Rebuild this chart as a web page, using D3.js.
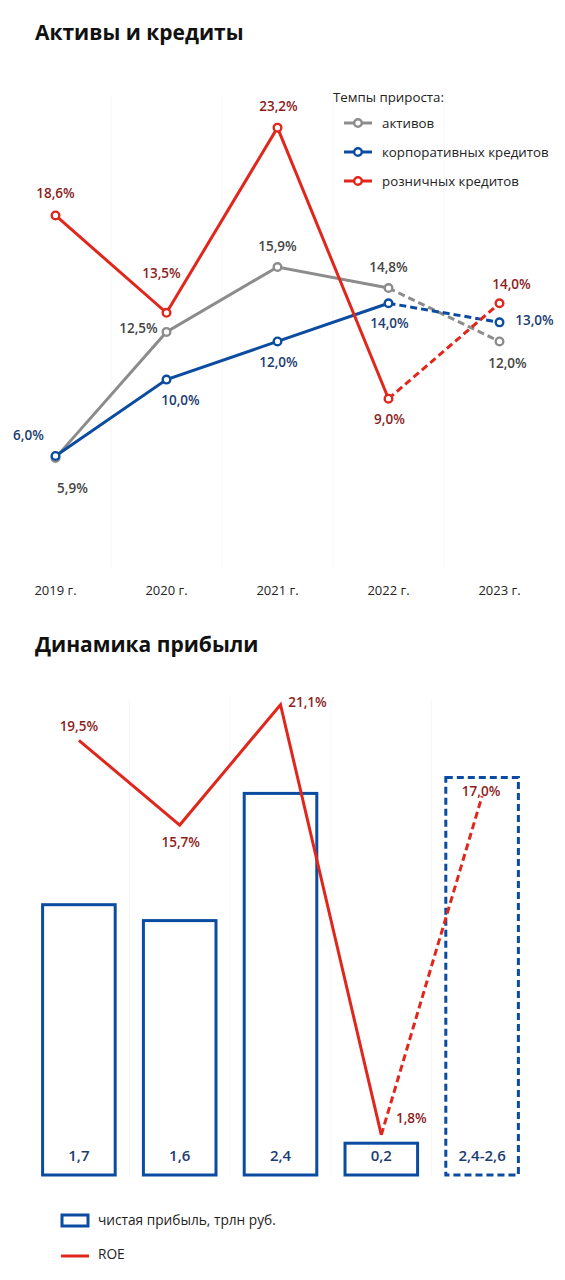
<!DOCTYPE html>
<html>
<head>
<meta charset="utf-8">
<script src="https://cdn.jsdelivr.net/npm/d3@7"></script>
<style>
  body { margin: 0; background: #fff; font-family: "Open Sans", "Noto Sans", sans-serif; }
  svg { display: block; }
</style>
</head>
<body>
<div id="chart"></div>
<script>
// --- data: chart 1 (growth rates, %)
const years = ["2019 г.", "2020 г.", "2021 г.", "2022 г.", "2023 г."]
const assetsGrowth = [5.9, 12.5, 15.9, 14.8, 12.0]
const corpLoansGrowth = [6.0, 10.0, 12.0, 14.0, 13.0]
const retailLoansGrowth = [18.6, 13.5, 23.2, 9.0, 14.0]
const growthLegendTitle = "Темпы прироста:"
const growthSeriesNames = ["активов", "корпоративных кредитов", "розничных кредитов"]

// --- data: chart 2 (profit)
const profitValues = [1.7, 1.6, 2.4, 0.2, 2.5]
const profitLabels = ["1,7", "1,6", "2,4", "0,2", "2,4-2,6"]
const roeValues = [19.5, 15.7, 21.1, 1.8, 17.0]
const profitLegend = ["чистая прибыль, трлн руб.", "ROE"]

const RED = "#e1261c", RED_TXT = "#8c1d1d"
const BLUE = "#0b4ca1", BLUE_TXT = "#1c3d74"
const GRAY = "#8c8c8c", GRAY_TXT = "#454545"
const fmt = v => d3.format(".1f")(v).replace(".", ",") + "%"

const svg = d3.select("#chart").append("svg")
  .attr("width", 565)
  .attr("height", 1280)

// ================= Chart 1 =================
svg.append("text")
  .attr("x", 35).attr("y", 40)
  .attr("font-size", "21px").attr("font-weight", 700).attr("fill", "#111")
  .text("Активы и кредиты")

const x1 = d3.scaleBand().domain(years).range([0, 555])
const y1 = d3.scaleLinear().domain([0, 25]).range([570.5, 93.3])
const cx1 = d => x1(d) + x1.bandwidth() / 2

const g1 = svg.append("g")

// faint column separators
g1.selectAll(".sep").data(years.slice(1)).enter().append("line")
  .attr("x1", d => x1(d)).attr("x2", d => x1(d))
  .attr("y1", 95).attr("y2", 568)
  .attr("stroke", "#f6f6f6").attr("stroke-width", 1)

// x axis labels
const xAxis1 = g1.append("g")
  .attr("transform", "translate(0, 586)")
  .call(d3.axisBottom(x1).tickSize(0).tickPadding(0))
xAxis1.select(".domain").remove()
xAxis1.selectAll("text")
  .attr("font-family", "Open Sans, Noto Sans, sans-serif")
  .attr("font-size", "13px").attr("fill", "#222")

const growthSeries = [
  { name: growthSeriesNames[0], values: assetsGrowth, color: GRAY, txt: GRAY_TXT,
    labelPos: [[17, 30], [-28, -4], [0, -21], [0, -21], [8, 22]] },
  { name: growthSeriesNames[1], values: corpLoansGrowth, color: BLUE, txt: BLUE_TXT,
    labelPos: [[-27, -21], [14, 21], [1, 21], [1, 20], [35, -2]] },
  { name: growthSeriesNames[2], values: retailLoansGrowth, color: RED, txt: RED_TXT,
    labelPos: [[0, -22], [-5, -40], [1, -21], [1, 21], [12, -19]] }
]

const line1 = d3.line()
  .x(d => cx1(d.year))
  .y(d => y1(d.value))

growthSeries.forEach(s => {
  const pts = s.values.map((v, i) => ({ year: years[i], value: v }))
  g1.append("path")
    .datum(pts.slice(0, 4))
    .attr("d", line1)
    .attr("fill", "none").attr("stroke", s.color).attr("stroke-width", 3)
  g1.append("path")
    .datum(pts.slice(3))
    .attr("d", line1)
    .attr("fill", "none").attr("stroke", s.color).attr("stroke-width", 3)
    .attr("stroke-dasharray", "7,4")
  s.pts = pts
})

growthSeries.forEach(s => {
  g1.selectAll(null).data(s.pts).enter().append("circle")
    .attr("cx", d => cx1(d.year)).attr("cy", d => y1(d.value))
    .attr("r", 3.8)
    .attr("fill", "#fff").attr("stroke", s.color).attr("stroke-width", 2.4)
})

growthSeries.forEach(s => {
  g1.selectAll(null).data(s.pts).enter().append("text")
    .attr("x", (d, i) => cx1(d.year) + s.labelPos[i][0])
    .attr("y", (d, i) => y1(d.value) + s.labelPos[i][1])
    .attr("dy", "0.35em")
    .attr("text-anchor", "middle")
    .attr("font-size", "13.5px").attr("font-weight", 600)
    .attr("fill", s.txt)
    .text(d => fmt(d.value))
})

// legend
const leg1 = svg.append("g").attr("transform", "translate(333, 97)")
leg1.append("text")
  .attr("x", 0).attr("y", 0).attr("dy", "0.35em")
  .attr("font-size", "13.3px").attr("fill", "#222")
  .text(growthLegendTitle)
const legItem = leg1.selectAll(".li").data(growthSeries).enter().append("g")
  .attr("transform", (d, i) => `translate(0, ${26 + i * 29})`)
legItem.append("line")
  .attr("x1", 11).attr("x2", 39).attr("y1", 0).attr("y2", 0)
  .attr("stroke", d => d.color).attr("stroke-width", 3)
legItem.append("circle")
  .attr("cx", 25).attr("cy", 0).attr("r", 3.8)
  .attr("fill", "#fff").attr("stroke", d => d.color).attr("stroke-width", 2.4)
legItem.append("text")
  .attr("x", 49).attr("y", 0).attr("dy", "0.35em")
  .attr("font-size", "13.3px").attr("fill", "#222")
  .text(d => d.name)

// ================= Chart 2 =================
svg.append("text")
  .attr("x", 35).attr("y", 652)
  .attr("font-size", "21px").attr("font-weight", 700).attr("fill", "#111")
  .text("Динамика прибыли")

const x2 = d3.scaleBand().domain(years).range([28.5, 532.5])
  .paddingInner(0.28).paddingOuter(0.14)
const yBar = d3.scaleLinear().domain([0, 3]).range([1175, 698])
const yRoe = d3.scaleLinear().domain([0, 21.4]).range([1175, 698])
const cx2 = d => x2(d) + x2.bandwidth() / 2
const step2 = x2.step()

const g2 = svg.append("g")

g2.selectAll(".sep").data(years.slice(1)).enter().append("line")
  .attr("x1", d => cx2(d) - step2 / 2).attr("x2", d => cx2(d) - step2 / 2)
  .attr("y1", 700).attr("y2", 1176)
  .attr("stroke", "#f6f6f6").attr("stroke-width", 1)

const bars = profitValues.map((v, i) => ({ year: years[i], value: v, label: profitLabels[i] }))

g2.selectAll(".bar").data(bars).enter().append("rect")
  .attr("x", d => x2(d.year))
  .attr("y", d => yBar(d.value))
  .attr("width", x2.bandwidth())
  .attr("height", d => yBar(0) - yBar(d.value))
  .attr("fill", "none").attr("stroke", BLUE).attr("stroke-width", 3)
  .attr("stroke-dasharray", (d, i) => i === 4 ? "7,4" : null)

g2.selectAll(".barLabel").data(bars).enter().append("text")
  .attr("x", d => cx2(d.year)).attr("y", 1156)
  .attr("dy", "0.35em").attr("text-anchor", "middle")
  .attr("font-size", "15px").attr("font-weight", 600).attr("fill", BLUE_TXT)
  .text(d => d.label)

const roe = roeValues.map((v, i) => ({ year: years[i], value: v }))
const line2 = d3.line().x(d => cx2(d.year)).y(d => yRoe(d.value))

g2.append("path").datum(roe.slice(0, 4)).attr("d", line2)
  .attr("fill", "none").attr("stroke", RED).attr("stroke-width", 3)
g2.append("path").datum(roe.slice(3)).attr("d", line2)
  .attr("fill", "none").attr("stroke", RED).attr("stroke-width", 3)
  .attr("stroke-dasharray", "7,4")

const roeLabelPos = [[0, -14], [1, 17], [27, -2], [30, -17], [-1, -5]]
g2.selectAll(".roeLabel").data(roe).enter().append("text")
  .attr("x", (d, i) => cx2(d.year) + roeLabelPos[i][0])
  .attr("y", (d, i) => yRoe(d.value) + roeLabelPos[i][1])
  .attr("dy", "0.35em").attr("text-anchor", "middle")
  .attr("font-size", "13.5px").attr("font-weight", 600).attr("fill", RED_TXT)
  .text(d => fmt(d.value))

// legend 2
const leg2 = svg.append("g").attr("transform", "translate(61, 1220)")
leg2.append("rect")
  .attr("x", 1).attr("y", -5).attr("width", 26).attr("height", 11)
  .attr("fill", "none").attr("stroke", BLUE).attr("stroke-width", 3)
leg2.append("text")
  .attr("x", 37).attr("y", 0).attr("dy", "0.35em")
  .attr("font-size", "13.7px").attr("fill", "#222")
  .text(profitLegend[0])
leg2.append("line")
  .attr("x1", 0).attr("x2", 28).attr("y1", 36).attr("y2", 36)
  .attr("stroke", RED).attr("stroke-width", 3)
leg2.append("text")
  .attr("x", 37).attr("y", 34).attr("dy", "0.35em")
  .attr("font-size", "13.7px").attr("fill", "#222")
  .text(profitLegend[1])
</script>
</body>
</html>
